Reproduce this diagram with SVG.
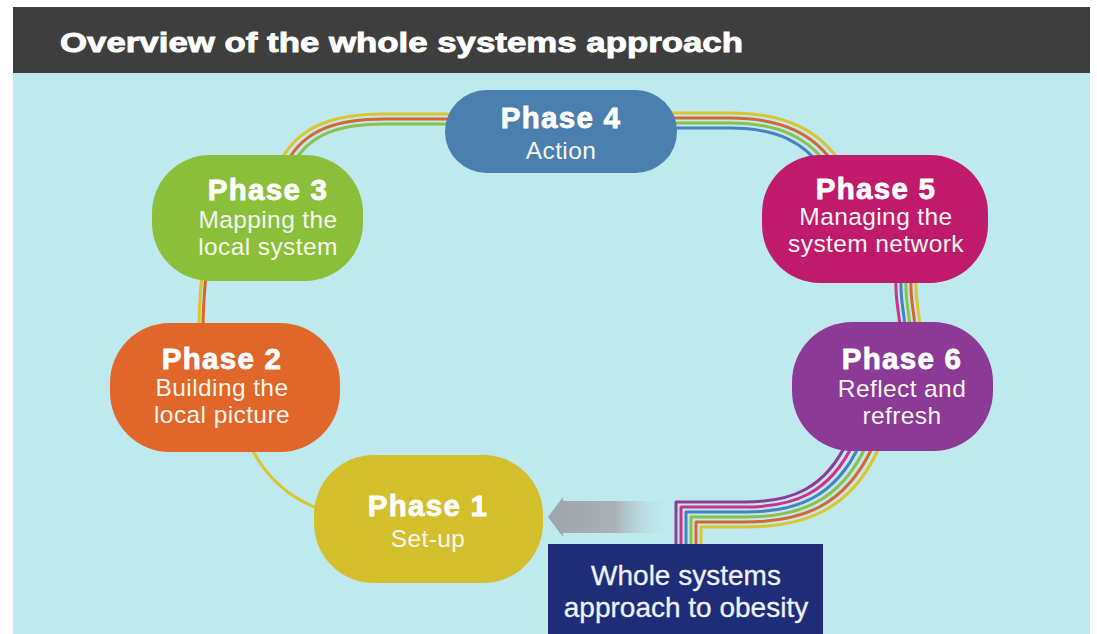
<svg xmlns="http://www.w3.org/2000/svg" width="1097" height="634" viewBox="0 0 1097 634">
<defs>
<style>
.title{font-family:"Liberation Sans",Arial,sans-serif;font-weight:bold;fill:#fff;stroke:#fff;stroke-width:0.9px;font-size:28px}
.ph{font-family:"Liberation Sans",Arial,sans-serif;font-weight:bold;fill:#fff;stroke:#fff;stroke-width:0.8px;font-size:29.5px;letter-spacing:1.3px;text-anchor:middle}
.sub{font-family:"Liberation Sans",Arial,sans-serif;fill:#f6f6ee;font-size:24.5px;letter-spacing:0.4px;text-anchor:middle}
.box{font-family:"Liberation Sans",Arial,sans-serif;fill:#eef2fa;stroke:#eef2fa;stroke-width:0.3px;font-size:28px;text-anchor:middle}
.s{fill:none;stroke-width:3px;stroke-linecap:butt;stroke-linejoin:round}
.y{stroke:#dcc42c}.o{stroke:#d8662e}.g{stroke:#8cc04a}.b{stroke:#4a80c0}.m{stroke:#d0308a}.p{stroke:#8e3b94}
</style>
<linearGradient id="arr" x1="0" y1="0" x2="1" y2="0">
<stop offset="0" stop-color="#9ea3a8"/>
<stop offset="0.55" stop-color="#aab2b6"/>
<stop offset="1" stop-color="#bde9ef" stop-opacity="0"/>
</linearGradient>
</defs>
<rect x="0" y="0" width="1097" height="634" fill="#fff"/>
<rect x="13" y="73" width="1077" height="561" fill="#bde9ef"/>
<rect x="13" y="7" width="1077" height="66" fill="#3e3e3e"/>
<text class="title" x="60" y="52" textLength="683" lengthAdjust="spacingAndGlyphs">Overview of the whole systems approach</text>

<g id="connectors">
<path class="s y" d="M250 445 Q272 492 322 510"/>
<path class="s y" d="M202 275 C200 295 199 310 199 330"/>
<path class="s o" d="M206 275 C204 295 203 310 203 330"/>
<path class="s y" d="M452 114 H385 C335 114 300 125 281 160"/>
<path class="s o" d="M452 119 H385 C338 119 305 129 287 162"/>
<path class="s g" d="M452 124 H385 C341 124 310 133 293 164"/>
<path class="s y" d="M670 113 H730 C785 113 820 130 842 165"/>
<path class="s o" d="M670 118 H730 C782 118 815 134 836 167"/>
<path class="s g" d="M670 123 H730 C779 123 810 138 830 169"/>
<path class="s b" d="M670 128 H730 C776 128 805 142 824 171"/>
<path class="s m" d="M896 278 C895 300 899 310 900 328"/>
<path class="s b" d="M901 278 C900 300 904 310 905 328"/>
<path class="s g" d="M906 278 C905 300 909 310 910 328"/>
<path class="s o" d="M911 278 C910 300 914 310 915 328"/>
<path class="s y" d="M916 278 C915 300 919 310 920 328"/>
<path class="s p" d="M676 548 V502 H745 C790 502 825 490 848 440"/>
<path class="s m" d="M681 548 V507 H745 C793 507 830 494 854 442"/>
<path class="s b" d="M686 548 V512 H745 C796 512 835 498 860 444"/>
<path class="s g" d="M691 548 V517 H745 C799 517 840 502 866 446"/>
<path class="s o" d="M696 548 V522 H745 C802 522 845 506 872 448"/>
<path class="s y" d="M701 548 V527 H745 C805 527 850 510 878 450"/>
</g>

<g id="arrow">
<path d="M548 517 L563 497 V501 H670 V533 H563 V537 Z" fill="url(#arr)"/>
</g>

<g id="phase4">
<rect x="445" y="90" width="232" height="83" rx="41.5" fill="#4a7fae"/>
<text class="ph" x="561" y="128">Phase 4</text>
<text class="sub" x="561" y="159">Action</text>
</g>
<g id="phase3">
<rect x="152" y="155" width="211" height="126" rx="58" fill="#8bbf3a"/>
<text class="ph" x="268" y="200">Phase 3</text>
<text class="sub" x="268" y="228">Mapping the</text>
<text class="sub" x="268" y="255">local system</text>
</g>
<g id="phase5">
<rect x="762" y="155" width="226" height="128" rx="58" fill="#c01a6c"/>
<text class="ph" x="876" y="199">Phase 5</text>
<text class="sub" x="876" y="225">Managing the</text>
<text class="sub" x="876" y="252">system network</text>
</g>
<g id="phase2">
<rect x="110" y="323" width="230" height="129" rx="60" fill="#e0662a"/>
<text class="ph" x="222" y="369">Phase 2</text>
<text class="sub" x="222" y="396">Building the</text>
<text class="sub" x="222" y="423">local picture</text>
</g>
<g id="phase6">
<rect x="792" y="322" width="201" height="129" rx="60" fill="#8b3a95"/>
<text class="ph" x="902" y="369">Phase 6</text>
<text class="sub" x="902" y="397">Reflect and</text>
<text class="sub" x="902" y="424">refresh</text>
</g>
<g id="phase1">
<rect x="314" y="455" width="229" height="128" rx="60" fill="#d3be2c"/>
<text class="ph" x="428" y="516">Phase 1</text>
<text class="sub" x="428" y="547">Set-up</text>
</g>
<g id="box">
<rect x="548" y="544" width="275" height="90" fill="#1f2c78"/>
<text class="box" x="686" y="585">Whole systems</text>
<text class="box" x="686" y="617">approach to obesity</text>
</g>
</svg>
